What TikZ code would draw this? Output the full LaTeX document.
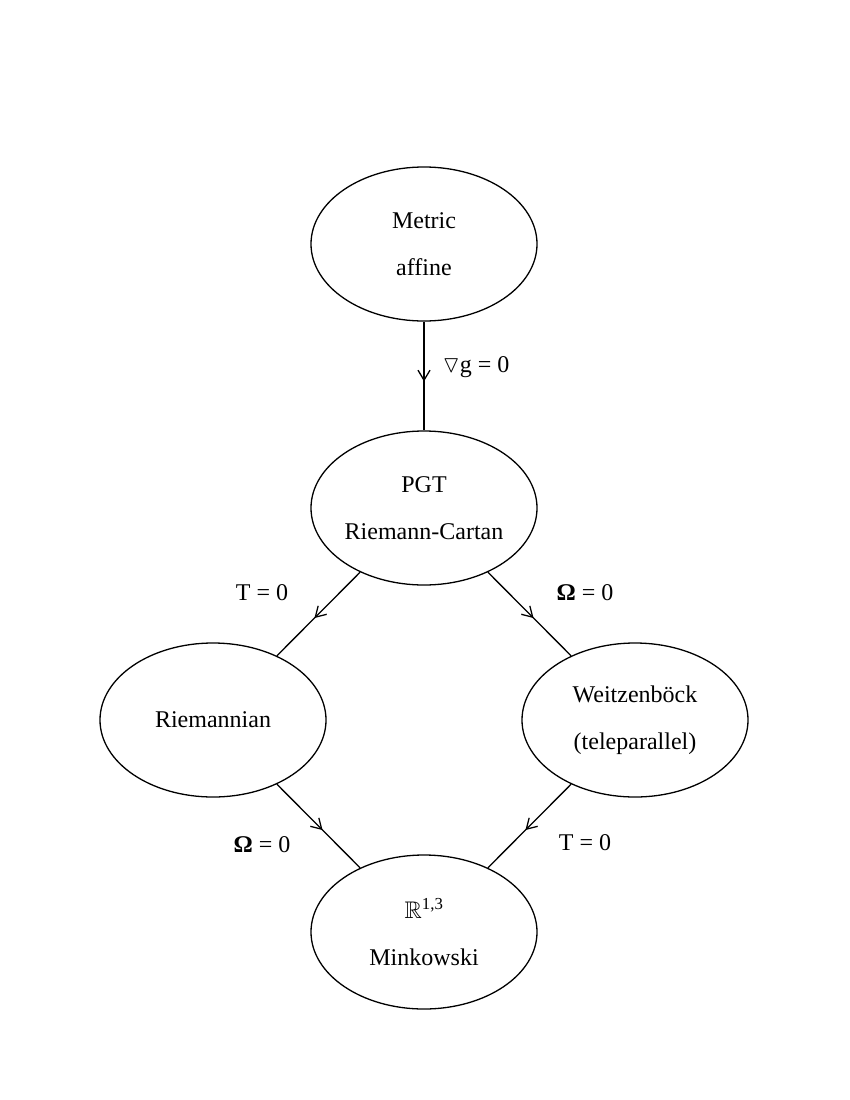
\documentclass[tikz,border=0pt]{standalone}
\usepackage{fontspec}
\usepackage{amssymb}
\setmainfont{Liberation Serif}
\usetikzlibrary{shapes.geometric,decorations.markings,arrows.meta}
\begin{document}
\begin{tikzpicture}[x=1pt,y=-1pt,
  ell/.style={ellipse,draw,line width=1.3pt,minimum width=226pt,minimum height=154pt,inner sep=0pt,align=center,font=\fontsize{24}{47}\selectfont},
  lbl/.style={font=\fontsize{24}{28}\selectfont},
  midarrow/.style={line width=1.3pt,postaction={decorate},decoration={markings,mark=at position 0.55 with {\arrow{Straight Barb[length=10pt,width=12pt,line width=1.3pt]}}}}]
\useasboundingbox (0,0) rectangle (850,1100);
\node[ell] (ma) at (424,244) {Metric\\affine};
\node[ell] (pgt) at (424,508) {PGT\\Riemann-Cartan};
\node[ell] (rie) at (213,720) {Riemannian};
\node[ell] (wei) at (635,720) {Weitzenböck\\(teleparallel)};
\node[ell] (min) at (424,932) {$\mathbb{R}$\textsuperscript{1,3}\\Minkowski};
\draw[midarrow] (ma) -- (pgt);
\draw[midarrow] (pgt) -- (rie);
\draw[midarrow] (pgt) -- (wei);
\draw[midarrow] (rie) -- (min);
\draw[midarrow] (wei) -- (min);
\node[lbl] (l1) at (476,367) {$\triangledown$g = 0};
\node[lbl] (l2) at (262,593) {T = 0};
\node[lbl] (l3) at (585,593) {\textbf{Ω} = 0};
\node[lbl] (l4) at (262,845) {\textbf{Ω} = 0};
\node[lbl] (l5) at (585,843) {T = 0};
\end{tikzpicture}
\end{document}
